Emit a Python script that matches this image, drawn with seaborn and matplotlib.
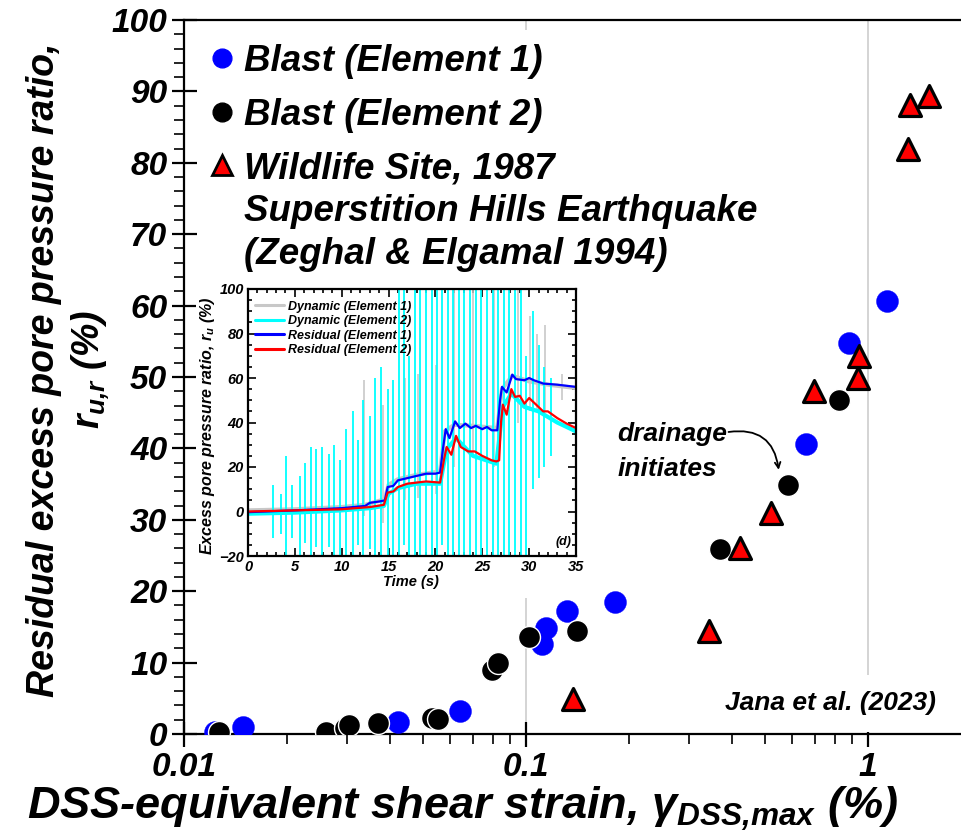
import matplotlib
matplotlib.use("Agg")
import matplotlib.pyplot as plt
import seaborn as sns
from matplotlib.lines import Line2D
from matplotlib.patches import Rectangle
from matplotlib.ticker import MultipleLocator, LogLocator, NullFormatter

# ---------------- main panel: residual r_u vs DSS-equivalent strain ----------------
blast1_strain = [0.0123, 0.0149, 0.0423, 0.0642, 0.1116, 0.1147, 0.132, 0.1825, 0.657, 0.878, 1.134]
blast1_ru = [0.3, 1.0, 1.7, 3.2, 12.6, 14.8, 17.2, 18.5, 40.6, 54.8, 60.6]

blast2_strain = [0.01266, 0.0260, 0.0295, 0.0303, 0.0370, 0.0532, 0.0554, 0.0797, 0.083,
                 0.102, 0.141, 0.370, 0.582, 0.820]
blast2_ru = [0.3, 0.3, 0.8, 1.2, 1.5, 2.2, 2.1, 9.0, 9.9, 13.6, 14.4, 25.9, 34.9, 46.8]

wildlife_strain = [0.1375, 0.342, 0.421, 0.519, 0.693, 0.933, 0.939, 1.306, 1.324, 1.504]
wildlife_ru = [4.9, 14.4, 26.0, 31.0, 48.0, 49.9, 53.0, 82.0, 88.1, 89.3]

x_ticks = [0.01, 0.1, 1]
x_ticklabels = ["0.01", "0.1", "1"]
y_ticks = [0, 10, 20, 30, 40, 50, 60, 70, 80, 90, 100]

legend_labels = ["Blast (Element 1)", "Blast (Element 2)", "Wildlife Site, 1987"]
legend_extra = ["Superstition Hills Earthquake", "(Zeghal & Elgamal 1994)"]

# ---------------- inset: time histories ----------------
res1_t = [0, 5, 10, 12.5, 13.0, 14.0, 14.6, 14.9, 15.5, 16.0, 17.0, 18.0, 19.0, 20.0, 20.5,
          20.8, 21.1, 21.5, 22.1, 22.6, 23.2, 23.8, 24.3, 25.0, 25.5, 26.0, 26.6, 26.9, 27.1,
          27.6, 28.2, 28.6, 29.5, 30.0, 30.5, 31.5, 33.0, 35.0]
res1_ru = [-0.3, 0.5, 1.5, 2.5, 3.9, 4.5, 5.0, 11.0, 11.5, 14.0, 15.0, 16.0, 17.0, 17.0, 17.5,
           28.0, 37.0, 33.0, 40.5, 37.5, 39.5, 37.5, 38.5, 37.0, 38.0, 36.5, 36.5, 50.0, 56.0,
           53.5, 61.5, 59.5, 59.0, 60.0, 59.0, 57.5, 57.0, 56.0]

res2_t = [0, 5, 10, 13, 14.5, 14.9, 15.5, 16.0, 17.0, 18.0, 19.0, 20.5, 20.9, 21.2, 21.7, 22.2,
          22.7, 23.5, 24.2, 25.0, 26.0, 26.5, 26.8, 27.0, 27.2, 27.6, 28.1, 28.5, 29.0, 29.5,
          30.0, 30.5, 31.0, 31.5, 32.0, 33.0, 34.0, 35.0]
res2_ru = [0, 0.5, 1.0, 2.0, 3.0, 8.5, 9.0, 11.0, 12.5, 13.0, 13.5, 13.0, 23.0, 29.0, 25.5, 34.0,
           29.0, 27.0, 27.0, 25.0, 23.0, 22.5, 23.0, 40.0, 48.0, 43.5, 55.0, 51.5, 52.0, 48.5,
           51.0, 49.0, 47.0, 45.0, 45.0, 42.0, 39.5, 37.5]

dyn1_t = [0, 5, 10, 12.5, 14.6, 15.0, 16, 18, 20.5, 21.0, 22, 24, 26.6, 27.1, 28.2, 30, 32, 35]
dyn1_ru = [0.5, 1.0, 2.0, 3.0, 5.5, 12.0, 14.5, 16.5, 18.0, 36.0, 39.0, 38.5, 37.5, 55.0, 61.0,
           58.5, 57.0, 55.5]
dyn1_spike_t = [12.4, 14.4, 16.8, 18.1, 20.1, 22.0, 24.0, 26.3, 28.8, 30.1, 30.8, 31.7, 33.5]
dyn1_spike_hi = [59, 48, 60, 62, 66, 100, 100, 100, 100, 88, 80, 84, 62]
dyn1_spike_lo = [-2, -5, 5, 6, 8, 20, 25, 20, 40, 45, 45, 45, 50]

dyn2_t = [0, 5, 10, 13, 14.5, 15.0, 16, 18, 20.5, 21.2, 22.2, 24, 26.5, 27.2, 28.1, 29.5, 31, 33, 35]
dyn2_ru = [-1.0, -0.5, 0.5, 1.5, 2.5, 8.0, 10.5, 12.5, 12.5, 28.0, 33.0, 25.0, 21.5, 47.0, 53.0,
           47.0, 45.0, 40.0, 36.0]
dyn2_spike_t = [2.7, 3.5, 4.1, 4.7, 5.5, 6.1, 6.7, 7.3, 7.9, 8.6, 9.2, 9.8, 10.5, 11.2, 11.7,
                12.3, 13.0, 13.6, 14.2, 14.9, 15.5, 16.1, 16.6, 17.2, 17.8, 18.4, 19.0, 19.6,
                20.2, 20.7, 21.3, 21.9, 22.5, 23.1, 23.7, 24.3, 24.9, 25.5, 26.1, 26.7, 27.3,
                27.9, 28.5, 29.1, 29.7, 30.4, 31.0, 31.6, 32.3]
dyn2_spike_hi = [12, 8, 25, 12, 16, 22, 29, 28, 29, 26, 30, 23, 37, 45, 32, 50, 43, 60, 65, 55,
                 59, 100, 100, 70, 100, 100, 100, 100, 100, 100, 100, 100, 100, 100, 100, 100,
                 100, 100, 100, 100, 100, 100, 100, 100, 70, 90, 75, 65, 60]
dyn2_spike_lo = [-12, -10, -20, -12, -20, -14, -20, -16, -20, -16, -20, -20, -20, -20, -15, -20,
                 -17, -20, -20, -20, -20, -20, -15, -20, -20, -20, -20, -20, -20, -15, -20, -20,
                 -20, -20, -20, -20, -20, -20, -20, -20, -20, -20, -20, -20, -20, 10, 15, 20, 25]

inset_labels = ["Dynamic (Element 1)", "Dynamic (Element 2)",
                "Residual (Element 1)", "Residual (Element 2)"]

# ---------------- style ----------------
sns.set_style("ticks")
plt.rcParams.update({
    "font.family": ["Liberation Sans", "DejaVu Sans"],
    "font.weight": "bold",
    "font.style": "italic",
    "axes.labelweight": "bold",
    "text.color": "black",
    "axes.labelcolor": "black",
    "mathtext.fontset": "custom",
    "mathtext.rm": "Liberation Sans:style=italic:weight=bold",
    "mathtext.it": "Liberation Sans:style=italic:weight=bold",
    "mathtext.bf": "Liberation Sans:style=italic:weight=bold",
    "axes.linewidth": 1.6,
    "axes.edgecolor": "black",
    "xtick.color": "black",
    "ytick.color": "black",
})

W, H = 962, 836
fig = plt.figure(figsize=(W / 100, H / 100), dpi=100)
fig.patch.set_facecolor("white")

# main axes (right spine sits just past the figure edge)
ax = fig.add_axes([184 / W, 1 - 734 / H, 787 / W, 714 / H])
ax.set_xscale("log")
ax.set_xlim(0.01, 2)
ax.set_ylim(0, 100)
ax.set_axisbelow(True)
ax.grid(axis="x", which="major", color="#d4d4d4", lw=1.4, zorder=0.5)
ax.grid(axis="y", visible=False)

sns.scatterplot(x=blast1_strain, y=blast1_ru, ax=ax, color="#0000ff", s=250,
                edgecolor="#0000ff", linewidth=0.3, zorder=3, legend=False)
sns.scatterplot(x=blast2_strain, y=blast2_ru, ax=ax, color="black", s=250,
                edgecolor="white", linewidth=1.0, zorder=4, legend=False)
sns.scatterplot(x=wildlife_strain, y=wildlife_ru, ax=ax, color="#ff0000", marker="^", s=250,
                edgecolor="black", linewidth=2.3, zorder=5, legend=False)

ax.set_xticks(x_ticks)
ax.set_xticklabels(x_ticklabels)
ax.xaxis.set_minor_locator(LogLocator(base=10, subs=range(2, 10)))
ax.xaxis.set_minor_formatter(NullFormatter())
ax.set_yticks(y_ticks)
ax.yaxis.set_minor_locator(MultipleLocator(2))
ax.tick_params(axis="both", which="major", direction="inout", length=18, width=1.6,
               labelsize=24)
ax.tick_params(axis="both", which="minor", direction="out", length=7, width=1.2)
ax.tick_params(axis="x", which="major", pad=4)
ax.tick_params(axis="y", which="major", pad=3)
for spine in ["top", "left", "bottom", "right"]:
    ax.spines[spine].set_visible(True)
    ax.spines[spine].set_linewidth(1.6)

ax.set_xlabel(r"DSS-equivalent shear strain, $\gamma_{DSS{,}max}$ (%)", fontsize=32.5,
              fontweight="bold", fontstyle="italic")
ax.xaxis.set_label_coords((463 - 184) / 787, (734 - 785) / 714)
ax.set_ylabel("Residual excess pore pressure ratio,\n$r_{u{,}r}$ (%)", fontsize=27,
              fontweight="bold", fontstyle="italic", linespacing=1.25)
ax.yaxis.set_label_coords((112 - 184) / 787, 0.51)

# white backing behind the legend block and the inset panel
ax.add_patch(Rectangle(((201 - 184) / 787, (734 - 272) / 714), (775 - 201) / 787, 242 / 714,
                       transform=ax.transAxes, facecolor="white", edgecolor="none", zorder=1))
ax.add_patch(Rectangle(((196 - 184) / 787, (734 - 598) / 714), (592 - 196) / 787, 330 / 714,
                       transform=ax.transAxes, facecolor="white", edgecolor="none", zorder=1))

handles = [
    Line2D([], [], ls="none", marker="o", ms=13.5, mfc="#0000ff", mec="#0000ff"),
    Line2D([], [], ls="none", marker="o", ms=13.5, mfc="black", mec="black"),
    Line2D([], [], ls="none", marker="^", ms=14, mfc="#ff0000", mec="black", mew=2.0),
]
leg = ax.legend(handles, legend_labels, loc="upper left",
                bbox_to_anchor=((201 - 184) / 787, (734 - 37) / 714), borderaxespad=0,
                frameon=False, fontsize=26.5, handlelength=0.74, handletextpad=0.22,
                labelspacing=0.5, borderpad=0.2)
leg.set_zorder(6)

# annotation
ax.text(0.185, 39.6, "drainage\ninitiates", fontsize=19, ha="left", va="center",
        linespacing=1.6, zorder=6)
ax.annotate("", xy=(0.548, 37.0), xytext=(0.391, 42.3),
            arrowprops=dict(arrowstyle="->", connectionstyle="arc3,rad=-0.5",
                            color="black", lw=1.3, shrinkA=0, shrinkB=0), zorder=6)
ax.text(1.578, 4.3, "Jana et al. (2023)", fontsize=19, ha="right", va="center", zorder=6,
        bbox=dict(facecolor="white", edgecolor="none", pad=12))

# ---------------- inset ----------------
axin = fig.add_axes([248 / W, 1 - 556 / H, 328 / W, 267 / H])
axin.set_facecolor("white")
sns.lineplot(x=dyn1_t, y=dyn1_ru, ax=axin, color="#c8c8c8", lw=3.0, estimator=None,
             sort=False, legend=False)
axin.vlines(dyn1_spike_t, dyn1_spike_lo, dyn1_spike_hi, color="#c8c8c8", lw=1.2)
sns.lineplot(x=dyn2_t, y=dyn2_ru, ax=axin, color="#00ffff", lw=3.0, estimator=None,
             sort=False, legend=False)
axin.vlines(dyn2_spike_t, dyn2_spike_lo, dyn2_spike_hi, color="#00ffff", lw=1.3)
sns.lineplot(x=res1_t, y=res1_ru, ax=axin, color="#0000ff", lw=1.6, estimator=None,
             sort=False, legend=False)
sns.lineplot(x=res2_t, y=res2_ru, ax=axin, color="#ff0000", lw=1.6, estimator=None,
             sort=False, legend=False)

axin.set_xlim(0, 35)
axin.set_ylim(-20, 100)
axin.xaxis.set_major_locator(MultipleLocator(5))
axin.xaxis.set_minor_locator(MultipleLocator(1))
axin.yaxis.set_major_locator(MultipleLocator(20))
axin.yaxis.set_minor_locator(MultipleLocator(5))
axin.tick_params(which="both", direction="in", top=True, right=True, width=1.2,
                 labelsize=10.5, pad=3)
axin.tick_params(which="major", length=6)
axin.tick_params(which="minor", length=3)
for spine in axin.spines.values():
    spine.set_linewidth(1.6)
axin.set_xlabel("Time (s)", fontsize=10.5, fontweight="bold", fontstyle="italic")
axin.xaxis.set_label_coords(0.497, -0.071)
axin.set_ylabel("Excess pore pressure ratio, $r_u$ (%)", fontsize=11.5, fontweight="bold",
                fontstyle="italic")
axin.yaxis.set_label_coords(-0.095, 0.49)
axin.text(0.985, 0.03, "(d)", transform=axin.transAxes, fontsize=9, ha="right", va="bottom")

in_handles = [Line2D([], [], color=c, lw=2.2) for c in ["#c8c8c8", "#00ffff", "#0000ff", "#ff0000"]]
axin.legend(in_handles, inset_labels, loc="upper left", bbox_to_anchor=(0.0, 0.985),
            frameon=False, fontsize=9, handlelength=2.3, handletextpad=0.3,
            labelspacing=0.2, borderaxespad=0.2)

# remaining lines of the third legend entry, aligned under its label
fig.canvas.draw()
renderer = fig.canvas.get_renderer()
bb = leg.get_texts()[2].get_window_extent(renderer)
yc = 0.5 * (bb.y0 + bb.y1)
for i, line in enumerate(legend_extra):
    fig.text(bb.x0 / W, (yc - 43 * (i + 1)) / H, line, fontsize=26.5, ha="left", va="center",
             zorder=7)

fig.savefig("out.png", dpi=100, facecolor="white")
